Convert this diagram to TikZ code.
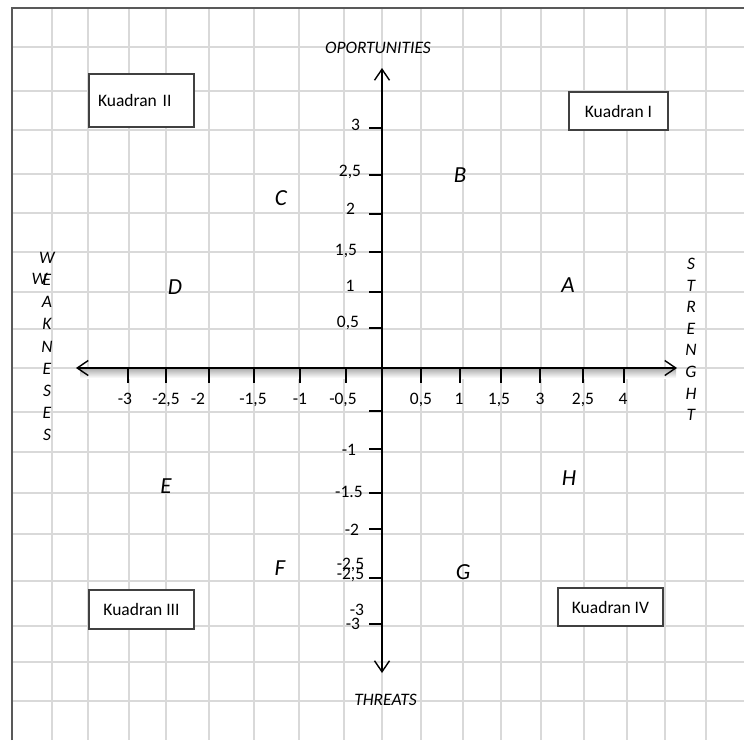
\documentclass[tikz,border=0pt]{standalone}
\usepackage{fontspec}
\setmainfont{Carlito}
\usetikzlibrary{arrows.meta}
\definecolor{gridgray}{HTML}{D9D9D9}
\definecolor{framegray}{HTML}{595959}
\tikzset{>={Straight Barb[length=11pt,width=15pt,line width=1.4pt]},every node/.style={font=\fontsize{17.5}{21}\selectfont},
axis/.style={line width=2.7pt,<->},tick/.style={line width=2.7pt},grille/.style={gridgray,line width=1.4pt},
quad/.style={draw=black!75,line width=1.2pt,fill=white,minimum height=38pt},
pt/.style={font=\fontsize{23}{26}\selectfont\itshape},lbl/.style={font=\fontsize{17.5}{21}\selectfont\itshape},
num/.style={inner sep=0pt,text height=11pt,text depth=0pt}}

\begin{document}
\begin{tikzpicture}[x=1pt,y=-1pt]
\useasboundingbox (0,0) rectangle (744,740);
\foreach \x in {52,88,129,166,209,254,299,344,382,421,463,501,541,584,627,665,706} \draw[grille] (\x,8)--(\x,740);
\foreach \y in {47,91,130,174,213,252,292,329,368,412,452,493,534,581,626,662,701} \draw[grille] (12,\y)--(744,\y);
\draw[framegray,line width=1.5pt] (12,740)--(12,8)--(744,8);
\shade[top color=black!30,bottom color=white] (80,369) rectangle (676,378);
\coordinate (wk) at (76,368);\coordinate (st) at (677,368);\coordinate (op) at (382,68);\coordinate (th) at (382,673);
\draw[axis] (wk)--(st);\draw[axis] (op)--(th);
\foreach \x/\l/\lx in {128/-3/125,166/{-2,5}/166,209/-2/198,254/{-1,5}/253,300/-1/300,346/{-0,5}/343,421/{0,5}/421,460/1/459,501/{1,5}/499,540/3/540,583/{2,5}/583,624/4/623}
  {\draw[tick] (\x,368)--(\x,383);\node[num] (hx\x) at (\lx,399){\l};}
\foreach \y in {128,175,214,252,292,328,411,449,493,529,578,624} \draw[tick] (369,\y)--(382,\y);
\foreach \l/\lx/\ly [count=\i] in {3/355.5/125,{2,5}/350/171,2/350.5/209,{1,5}/346/250,1/350/286,{0,5}/348/322,-1/349/450,-1.5/349/492,-2/352/530,{-2,5}/350.5/564,{-2,5}/350.5/574,-3/357/610,-3/353/624}
  \node[num] (vy\i) at (\lx,\ly){\l};
\node[quad,minimum width=105pt,minimum height=53pt,inner xsep=9pt,text width=87pt,align=left] (k2) at (141.5,100.5){Kuadran II};
\node[quad,minimum width=99pt] (k1) at (618.5,111){Kuadran I};
\node[quad,minimum width=105pt,minimum height=39pt] (k3) at (141.5,609.5){Kuadran III};
\node[quad,minimum width=105pt] (k4) at (610.5,607){Kuadran IV};
\foreach \c/\x/\y in {A/568/285,B/460/175,C/281/198,D/175/287,E/166/486,F/280/568,G/463/572,H/569/478} \node[pt] (p\c) at (\x,\y){\c};
\node[lbl] (opp) at (378,47.5){OPORTUNITIES};\node[lbl] (thr) at (385.5,700){THREATS};
\foreach \c [count=\i from 0] in {W,E,A,K,N,E,S,E,S} \node[lbl] (w\i) at (47,258+22.1*\i){\c};
\node[lbl] (w) at (39.5,279){W};
\foreach \c [count=\i from 0] in {S,T,R,E,N,G,H,T} \node[lbl] (s\i) at (691,264+21.57*\i){\c};
\end{tikzpicture}
\end{document}
